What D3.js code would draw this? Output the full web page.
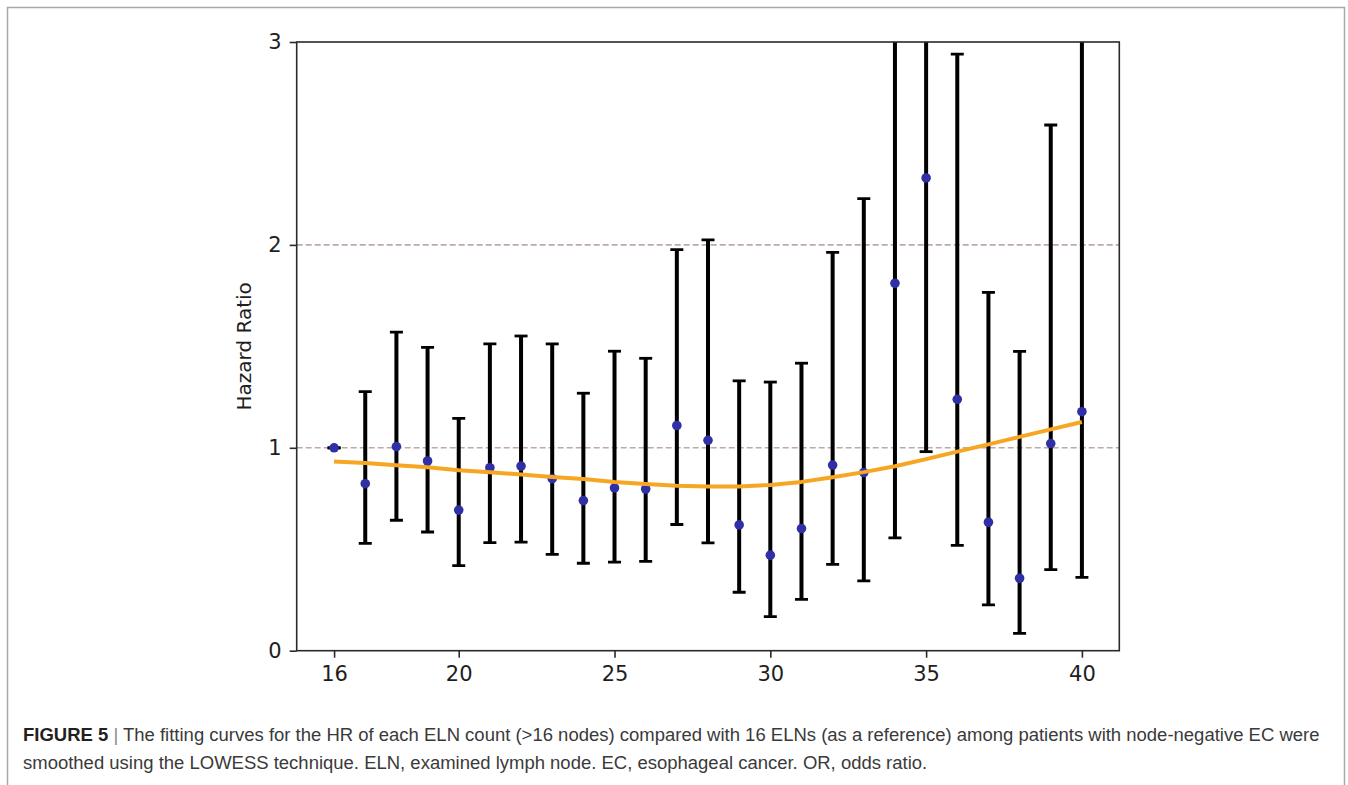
<!DOCTYPE html>
<html>
<head>
<meta charset="utf-8">
<script src="https://cdn.jsdelivr.net/npm/d3@7"></script>
<style>
  html, body { margin: 0; padding: 0; background: #fff; }
  svg { display: block; }
</style>
</head>
<body>
<svg id="chart" width="1348" height="785"></svg>
<script>
// ---- data ----
const elnCounts = [16, 17, 18, 19, 20, 21, 22, 23, 24, 25, 26, 27, 28, 29, 30, 31, 32, 33, 34, 35, 36, 37, 38, 39, 40];
const hazardRatio = [1.0, 0.823, 1.006, 0.935, 0.693, 0.902, 0.910, 0.848, 0.740, 0.802, 0.797, 1.110, 1.037, 0.620, 0.471, 0.602, 0.915, 0.878, 1.811, 2.330, 1.239, 0.633, 0.357, 1.021, 1.178];
const ciLower = [1.0, 0.529, 0.643, 0.585, 0.419, 0.533, 0.535, 0.475, 0.431, 0.437, 0.440, 0.622, 0.531, 0.288, 0.168, 0.253, 0.425, 0.344, 0.556, 0.981, 0.519, 0.226, 0.085, 0.400, 0.361];
const ciUpper = [1.0, 1.277, 1.570, 1.495, 1.145, 1.512, 1.551, 1.512, 1.269, 1.476, 1.441, 1.977, 2.025, 1.330, 1.324, 1.417, 1.963, 2.228, 4.2, 5.1, 2.940, 1.766, 1.475, 2.591, 3.6];
const lowessFit = [0.933, 0.925, 0.914, 0.904, 0.889, 0.879, 0.869, 0.856, 0.846, 0.831, 0.821, 0.813, 0.809, 0.809, 0.817, 0.832, 0.855, 0.880, 0.909, 0.944, 0.981, 1.017, 1.054, 1.091, 1.127];
const xTicks = [16, 20, 25, 30, 35, 40];
const yTicks = [0, 1, 2, 3];
const refLines = [1, 2];
const yLabel = "Hazard Ratio";
const captionBold = "FIGURE 5";
const captionLine1 = "The fitting curves for the HR of each ELN count (>16 nodes) compared with 16 ELNs (as a reference) among patients with node-negative EC were";
const captionLine2 = "smoothed using the LOWESS technique. ELN, examined lymph node. EC, esophageal cancer. OR, odds ratio.";

// ---- layout ----
const svg = d3.select("#chart");
const plot = { left: 296.7, right: 1119.3, top: 42, bottom: 650.7 };

// frame border (top, left, right)
svg.append("rect")
  .attr("x", 7.5).attr("y", 7.5)
  .attr("width", 1337).attr("height", 820)
  .attr("fill", "none").attr("stroke", "#a8a8a8").attr("stroke-width", 1.5);

const x = d3.scaleLinear().domain([14.8, 41.2]).range([plot.left, plot.right]);
const y = d3.scaleLinear().domain([0, 3]).range([plot.bottom, plot.top]);

const data = elnCounts.map((c, i) => ({
  c, hr: hazardRatio[i], lo: ciLower[i], hi: ciUpper[i], fit: lowessFit[i]
}));

svg.append("defs").append("clipPath").attr("id", "plotclip")
  .append("rect")
  .attr("x", plot.left).attr("y", plot.top)
  .attr("width", plot.right - plot.left).attr("height", plot.bottom - plot.top);

const g = svg.append("g").attr("clip-path", "url(#plotclip)");

// reference dashed lines
g.selectAll("line.ref").data(refLines).join("line")
  .attr("class", "ref")
  .attr("x1", plot.left).attr("x2", plot.right)
  .attr("y1", d => y(d)).attr("y2", d => y(d))
  .attr("stroke", "#bda9a9").attr("stroke-width", 1.6)
  .attr("stroke-dasharray", "6,3");

// error bars
const eb = g.selectAll("g.eb").data(data).join("g").attr("class", "eb");
eb.append("line")
  .attr("x1", d => x(d.c)).attr("x2", d => x(d.c))
  .attr("y1", d => y(d.lo)).attr("y2", d => y(d.hi))
  .attr("stroke", "#000").attr("stroke-width", 4);
eb.append("line")
  .attr("x1", d => x(d.c) - 6.5).attr("x2", d => x(d.c) + 6.5)
  .attr("y1", d => y(d.lo)).attr("y2", d => y(d.lo))
  .attr("stroke", "#000").attr("stroke-width", 2.8);
eb.append("line")
  .attr("x1", d => x(d.c) - 6.5).attr("x2", d => x(d.c) + 6.5)
  .attr("y1", d => y(d.hi)).attr("y2", d => y(d.hi))
  .attr("stroke", "#000").attr("stroke-width", 2.8);

// points
g.selectAll("circle.pt").data(data).join("circle")
  .attr("class", "pt")
  .attr("cx", d => x(d.c)).attr("cy", d => y(d.hr))
  .attr("r", 4.8)
  .attr("fill", "#2f2fa6");

// LOWESS curve
g.append("path")
  .datum(data)
  .attr("fill", "none")
  .attr("stroke", "#f6a623")
  .attr("stroke-width", 4)
  .attr("stroke-linejoin", "round")
  .attr("d", d3.line().x(d => x(d.c)).y(d => y(d.fit)));

// spines
svg.append("rect")
  .attr("x", plot.left).attr("y", plot.top)
  .attr("width", plot.right - plot.left).attr("height", plot.bottom - plot.top)
  .attr("fill", "none").attr("stroke", "#2a2a2a").attr("stroke-width", 1.6);

// axes
const tickFont = "'DejaVu Sans', sans-serif";
const xAxis = svg.append("g")
  .attr("transform", `translate(0,${plot.bottom})`)
  .call(d3.axisBottom(x).tickValues(xTicks).tickSize(7).tickPadding(8).tickFormat(d3.format("d")));
const yAxis = svg.append("g")
  .attr("transform", `translate(${plot.left},0)`)
  .call(d3.axisLeft(y).tickValues(yTicks).tickSize(7).tickPadding(8).tickFormat(d3.format("d")));
[xAxis, yAxis].forEach(a => {
  a.select(".domain").remove();
  a.selectAll(".tick line").attr("stroke", "#2a2a2a").attr("stroke-width", 1.6);
  a.selectAll(".tick text")
    .attr("fill", "#1e1e1e")
    .style("font-family", tickFont)
    .style("font-size", "21px");
});

// y label
svg.append("text")
  .attr("transform", `translate(251,${(plot.top + plot.bottom) / 2}) rotate(-90)`)
  .attr("text-anchor", "middle")
  .style("font-family", tickFont)
  .style("font-size", "20px")
  .attr("fill", "#1e1e1e")
  .text(yLabel);

// caption
const capFont = "'Liberation Sans', Arial, sans-serif";
const cap1 = svg.append("text")
  .attr("x", 23).attr("y", 741)
  .style("font-family", capFont)
  .style("font-size", "17px")
  .attr("fill", "#3a3a3a");
cap1.append("tspan").attr("font-weight", "bold").attr("fill", "#231f20").text(captionBold);
cap1.append("tspan").attr("fill", "#888").text("  |  ");
cap1.append("tspan").text(captionLine1);
const cap2 = svg.append("text")
  .attr("x", 23).attr("y", 769)
  .style("font-family", capFont)
  .style("font-size", "17px")
  .attr("fill", "#3a3a3a")
  .text(captionLine2);

// fit caption line 1 width to the reference span
const targetW = 1297;
const w = cap1.node().getComputedTextLength();
if (w > 0) {
  const fs = Math.max(14, Math.min(19, 17 * targetW / w));
  cap1.style("font-size", fs + "px");
  cap2.style("font-size", fs + "px");
}
</script>
</body>
</html>
